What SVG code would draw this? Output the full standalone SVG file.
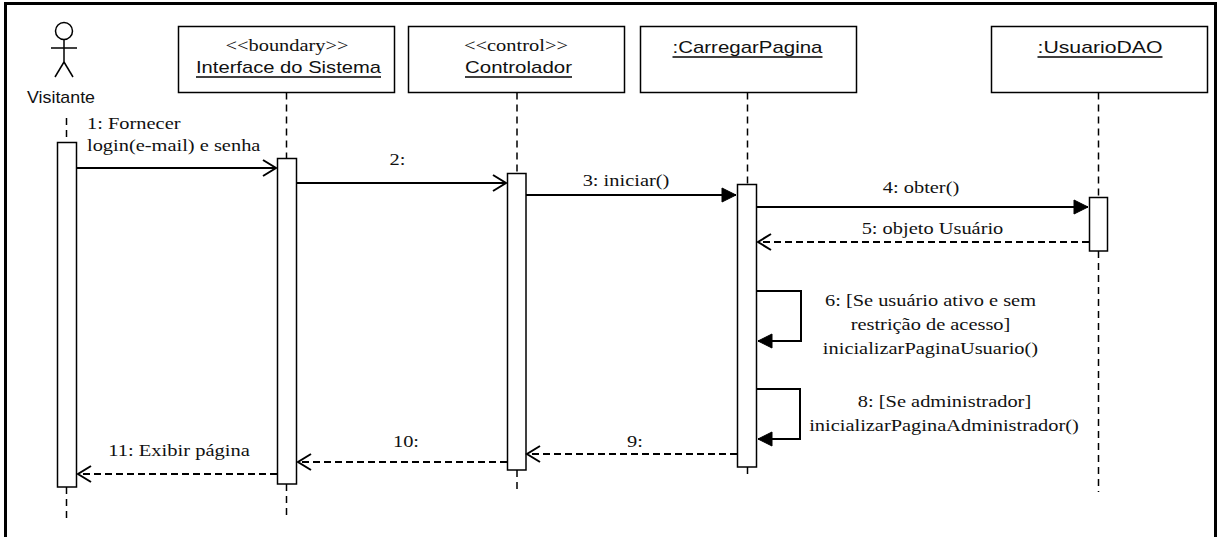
<svg xmlns="http://www.w3.org/2000/svg" width="1218" height="537" viewBox="0 0 1218 537">
<style>
.frame{fill:none;stroke:#000;stroke-width:3}
.box{fill:#fff;stroke:#000;stroke-width:1.5}
.act{fill:#fff;stroke:#000;stroke-width:1.5}
.life{stroke:#000;stroke-width:1.5;stroke-dasharray:7 5;fill:none}
.ul{stroke:#000;stroke-width:1.5}
.msg{stroke:#000;stroke-width:2;fill:none}
.ret{stroke:#000;stroke-width:2;fill:none;stroke-dasharray:7 4}
.sans{font-family:"Liberation Sans",Arial,sans-serif;font-size:17px;fill:#111}
.serif{font-family:"Liberation Serif","Times New Roman",serif;font-size:17px;fill:#111}
.mid{text-anchor:middle}
.actor{fill:none;stroke:#000;stroke-width:1.5}
</style>
<defs>
<marker id="open" viewBox="-16 -10 18 20" markerWidth="18" markerHeight="20" refX="0" refY="0" orient="auto" markerUnits="userSpaceOnUse">
<path d="M-13,-8 L0,0 L-13,8" fill="none" stroke="#000" stroke-width="2"/>
</marker>
<marker id="filled" viewBox="-16 -10 18 20" markerWidth="18" markerHeight="20" refX="0" refY="0" orient="auto" markerUnits="userSpaceOnUse">
<path d="M-14,-7 L0,0 L-14,7 Z" fill="#000" stroke="#000" stroke-width="1"/>
</marker>
</defs>
<rect width="1218" height="537" fill="#fff"/>
<rect class="frame" x="5.5" y="3.5" width="1210" height="600"/>

<g id="visitante">
<ellipse class="actor" cx="64" cy="31" rx="8.5" ry="8.5"/>
<line class="actor" x1="64" y1="39.5" x2="64" y2="62"/>
<line class="actor" x1="51" y1="48" x2="77" y2="48"/>
<line class="actor" x1="64" y1="62" x2="55" y2="77"/>
<line class="actor" x1="64" y1="62" x2="73" y2="77"/>
<text class="sans mid" x="61" y="103" textLength="68" lengthAdjust="spacingAndGlyphs">Visitante</text>
<line class="life" x1="66.5" y1="118" x2="66.5" y2="142"/>
<line class="life" x1="66.5" y1="487" x2="66.5" y2="518"/>
<rect class="act" x="57.5" y="142.5" width="19" height="344.5"/>
</g>

<g id="interface">
<rect class="box" x="178.5" y="26.5" width="216" height="66"/>
<text class="serif mid" x="287" y="51" textLength="123" lengthAdjust="spacingAndGlyphs">&lt;&lt;boundary&gt;&gt;</text>
<text class="sans mid" x="288.5" y="73" textLength="185" lengthAdjust="spacingAndGlyphs">Interface do Sistema</text>
<line class="ul" x1="196" y1="77" x2="381" y2="77"/>
<line class="life" x1="286.5" y1="92.5" x2="286.5" y2="158"/>
<line class="life" x1="286.5" y1="484" x2="286.5" y2="518"/>
<rect class="act" x="277.5" y="158.5" width="19" height="325.5"/>
</g>

<g id="controlador">
<rect class="box" x="408.5" y="26.5" width="216" height="66"/>
<text class="serif mid" x="516" y="51" textLength="104" lengthAdjust="spacingAndGlyphs">&lt;&lt;control&gt;&gt;</text>
<text class="sans mid" x="518.5" y="73" textLength="107" lengthAdjust="spacingAndGlyphs">Controlador</text>
<line class="ul" x1="465" y1="77" x2="572" y2="77"/>
<line class="life" x1="517" y1="92.5" x2="517" y2="173"/>
<line class="life" x1="517" y1="470" x2="517" y2="492"/>
<rect class="act" x="507.5" y="173.5" width="18.5" height="296.5"/>
</g>

<g id="carregarpagina">
<rect class="box" x="640.5" y="26.5" width="216" height="66"/>
<text class="sans mid" x="747.5" y="53" textLength="150" lengthAdjust="spacingAndGlyphs">:CarregarPagina</text>
<line class="ul" x1="672.5" y1="57" x2="822.5" y2="57"/>
<line class="life" x1="747.5" y1="92.5" x2="747.5" y2="184"/>
<line class="life" x1="747.5" y1="467" x2="747.5" y2="478"/>
<rect class="act" x="737.5" y="184.5" width="19" height="282.5"/>
</g>

<g id="usuariodao">
<rect class="box" x="991.5" y="26.5" width="216" height="66"/>
<text class="sans mid" x="1100" y="53" textLength="125" lengthAdjust="spacingAndGlyphs">:UsuarioDAO</text>
<line class="ul" x1="1037.5" y1="57" x2="1162.5" y2="57"/>
<line class="life" x1="1098.5" y1="92.5" x2="1098.5" y2="197"/>
<line class="life" x1="1098.5" y1="251" x2="1098.5" y2="492"/>
<rect class="act" x="1089.5" y="197.5" width="18" height="53.5"/>
</g>

<g id="connectors">
<line class="msg" x1="77" y1="168" x2="276" y2="168" marker-end="url(#open)"/>
<text class="serif" x="87" y="129" textLength="93.5" lengthAdjust="spacingAndGlyphs">1: Fornecer</text>
<text class="serif" x="87" y="151" textLength="173.4" lengthAdjust="spacingAndGlyphs">login(e-mail) e senha</text>

<line class="msg" x1="297" y1="183" x2="506" y2="183" marker-end="url(#open)"/>
<text class="serif mid" x="397.5" y="165" textLength="15.9" lengthAdjust="spacingAndGlyphs">2:</text>

<line class="msg" x1="526" y1="195" x2="736" y2="195" marker-end="url(#filled)"/>
<text class="serif mid" x="626" y="186" textLength="86.7" lengthAdjust="spacingAndGlyphs">3: iniciar()</text>

<line class="msg" x1="757" y1="207" x2="1088" y2="207" marker-end="url(#filled)"/>
<text class="serif mid" x="921" y="193" textLength="76.5" lengthAdjust="spacingAndGlyphs">4: obter()</text>

<line class="ret" x1="1089" y1="242" x2="758" y2="242" marker-end="url(#open)"/>
<text class="serif mid" x="932.5" y="234" textLength="141.7" lengthAdjust="spacingAndGlyphs">5: objeto Usuário</text>

<polyline class="msg" points="757,291 801,291 801,341 758,341" marker-end="url(#filled)"/>
<text class="serif mid" x="930.5" y="306" textLength="211" lengthAdjust="spacingAndGlyphs">6: [Se usuário ativo e sem</text>
<text class="serif mid" x="930.5" y="330" textLength="159.7" lengthAdjust="spacingAndGlyphs">restrição de acesso]</text>
<text class="serif mid" x="930.5" y="354" textLength="215.3" lengthAdjust="spacingAndGlyphs">inicializarPaginaUsuario()</text>

<polyline class="msg" points="757,389 800,389 800,439 758,439" marker-end="url(#filled)"/>
<text class="serif mid" x="944.5" y="407" textLength="173.4" lengthAdjust="spacingAndGlyphs">8: [Se administrador]</text>
<text class="serif mid" x="944" y="431" textLength="269.7" lengthAdjust="spacingAndGlyphs">inicializarPaginaAdministrador()</text>

<line class="ret" x1="737" y1="454" x2="527" y2="454" marker-end="url(#open)"/>
<text class="serif mid" x="635" y="447" textLength="15.9" lengthAdjust="spacingAndGlyphs">9:</text>

<line class="ret" x1="507" y1="462" x2="298" y2="462" marker-end="url(#open)"/>
<text class="serif mid" x="406" y="447" textLength="26.1" lengthAdjust="spacingAndGlyphs">10:</text>

<line class="ret" x1="277" y1="474" x2="78" y2="474" marker-end="url(#open)"/>
<text class="serif mid" x="179" y="456" textLength="141.7" lengthAdjust="spacingAndGlyphs">11: Exibir página</text>
</g>
</svg>
